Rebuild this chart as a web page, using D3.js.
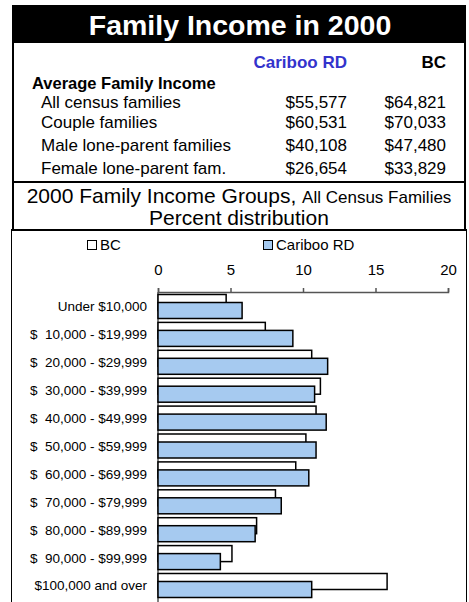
<!DOCTYPE html>
<html><head><meta charset="utf-8">
<script src="https://cdn.jsdelivr.net/npm/d3@7"></script>
<style>
html,body{margin:0;padding:0;background:#fff;}
svg{display:block;font-family:"Liberation Sans",Arial,sans-serif;}
</style></head>
<body>
<svg id="c" width="469" height="602"></svg>
<script>
// ---- data ----
const tableRows = ["All census families", "Couple families", "Male lone-parent families", "Female lone-parent fam."];
const caribooIncome = ["$55,577", "$60,531", "$40,108", "$26,654"];
const bcIncome = ["$64,821", "$70,033", "$47,480", "$33,829"];
const categories = ["Under $10,000", "$  10,000 - $19,999", "$  20,000 - $29,999", "$  30,000 - $39,999",
  "$  40,000 - $49,999", "$  50,000 - $59,999", "$  60,000 - $69,999", "$  70,000 - $79,999",
  "$  80,000 - $89,999", "$  90,000 - $99,999", "$100,000 and over"];
const bcValues = [4.7, 7.4, 10.6, 11.2, 10.9, 10.2, 9.5, 8.1, 6.8, 5.1, 15.8];
const caribooValues = [5.8, 9.3, 11.7, 10.8, 11.6, 10.9, 10.4, 8.5, 6.7, 4.3, 10.6];
const tickValues = [0, 5, 10, 15, 20];
const seriesNames = ["BC", "Cariboo RD"];

const svg = d3.select("#c");

// ---- title band ----
svg.append("rect").attr("x", 12).attr("y", 5).attr("width", 454).attr("height", 38).attr("fill", "#000");
svg.append("text").attr("x", 240).attr("y", 35).attr("text-anchor", "middle")
  .attr("fill", "#fff").attr("font-weight", "bold").attr("font-size", 28.5).text("Family Income in 2000");

// top box borders
const frame = svg.append("g").attr("stroke", "#000").attr("stroke-width", 2).attr("fill", "none");
frame.append("line").attr("x1", 13).attr("x2", 13).attr("y1", 43).attr("y2", 231);
frame.append("line").attr("x1", 465).attr("x2", 465).attr("y1", 43).attr("y2", 231);
frame.append("line").attr("x1", 12).attr("x2", 466).attr("y1", 182).attr("y2", 182);
frame.append("line").attr("x1", 11).attr("x2", 467).attr("y1", 230).attr("y2", 230);

// ---- table ----
const tfs = 17;
svg.append("text").attr("x", 347).attr("y", 68).attr("text-anchor", "end").attr("font-weight", "bold")
  .attr("font-size", tfs).attr("fill", "#3333cc").text("Cariboo RD");
svg.append("text").attr("x", 446).attr("y", 68).attr("text-anchor", "end").attr("font-weight", "bold")
  .attr("font-size", tfs).attr("fill", "#000").text("BC");
svg.append("text").attr("x", 32).attr("y", 88.5).attr("font-weight", "bold")
  .attr("font-size", 16.5).attr("fill", "#000").text("Average Family Income");
const rowY = [107.5, 128, 151, 174];
tableRows.forEach((r, i) => {
  svg.append("text").attr("x", 41).attr("y", rowY[i]).attr("font-size", tfs).text(r);
  svg.append("text").attr("x", 347).attr("y", rowY[i]).attr("font-size", tfs).attr("text-anchor", "end").text(caribooIncome[i]);
  svg.append("text").attr("x", 446).attr("y", rowY[i]).attr("font-size", tfs).attr("text-anchor", "end").text(bcIncome[i]);
});

// ---- subtitle ----
const st = svg.append("text").attr("x", 239).attr("y", 203).attr("text-anchor", "middle").attr("font-size", 21);
st.append("tspan").text("2000 Family Income Groups, ");
st.append("tspan").attr("font-size", 17).text("All Census Families");
svg.append("text").attr("x", 239).attr("y", 225).attr("text-anchor", "middle").attr("font-size", 21).text("Percent distribution");

// ---- chart box ----
svg.append("rect").attr("x", 11.5).attr("y", 230.5).attr("width", 455).attr("height", 380)
  .attr("fill", "none").attr("stroke", "#000").attr("stroke-width", 1);

// legend
const legX = [87, 263];
seriesNames.forEach((n, i) => {
  svg.append("rect").attr("x", legX[i] + 0.5).attr("y", 240.5).attr("width", 9).attr("height", 9)
    .attr("fill", i === 0 ? "#fff" : "#a6caf0").attr("stroke", "#000").attr("stroke-width", 1);
  svg.append("text").attr("x", legX[i] + 13).attr("y", 250).attr("font-size", 15).text(n);
});

// scales
const x = d3.scaleLinear().domain([0, 20]).range([158, 448]);
const y = d3.scaleBand().domain(categories).range([292.5, 599.4]).padding(0);

// axis
const ax = svg.append("g").attr("transform", "translate(0,292)")
  .call(d3.axisTop(x).tickValues(tickValues).tickSize(4).tickPadding(13));
ax.selectAll("path,line").attr("stroke", "#555").attr("stroke-width", 1.5);
ax.selectAll("text").attr("font-size", 15).attr("fill", "#000").attr("font-family", "Liberation Sans, Arial, sans-serif");

// category axis line
svg.append("line").attr("x1", x(0)).attr("x2", x(0)).attr("y1", 292).attr("y2", 602)
  .attr("stroke", "#555").attr("stroke-width", 1.5);

// bars
svg.append("g").selectAll("rect").data(categories).join("rect")
  .attr("x", x(0)).attr("y", d => y(d) + 2)
  .attr("width", (d, i) => x(bcValues[i]) - x(0)).attr("height", 16)
  .attr("fill", "#fff").attr("stroke", "#000").attr("stroke-width", 1.5);
svg.append("g").selectAll("rect").data(categories).join("rect")
  .attr("x", x(0)).attr("y", d => y(d) + 10)
  .attr("width", (d, i) => x(caribooValues[i]) - x(0)).attr("height", 16)
  .attr("fill", "#a6caf0").attr("stroke", "#000").attr("stroke-width", 1.5);

// category labels
svg.append("g").selectAll("text").data(categories).join("text")
  .attr("x", 147).attr("y", d => y(d) + y.bandwidth() / 2 + 5)
  .attr("text-anchor", "end").attr("font-size", 13.5)
  .style("white-space", "pre").text(d => d);
</script>
</body></html>
